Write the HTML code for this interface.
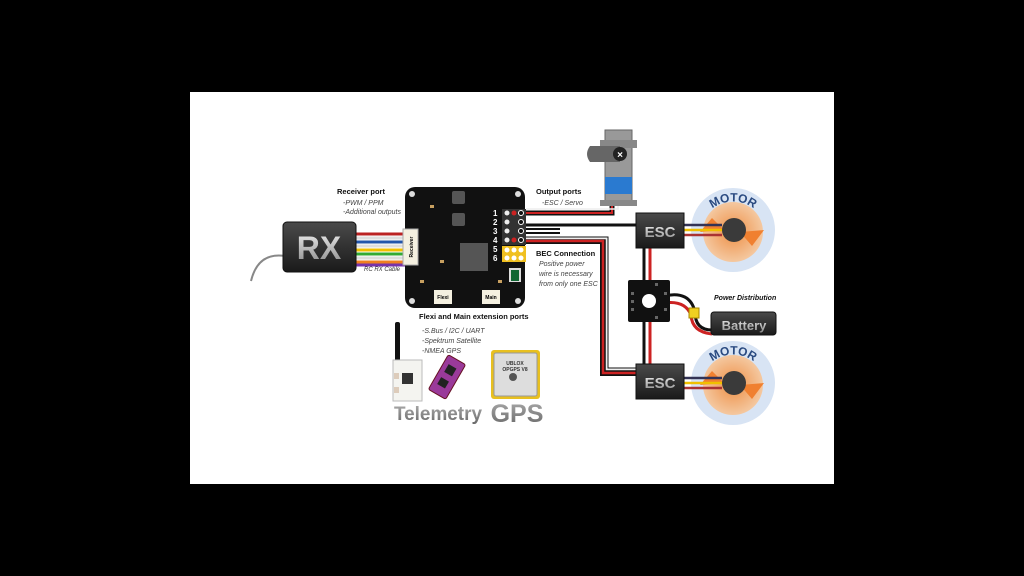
<!DOCTYPE html>
<html><head><style>
html,body{margin:0;padding:0;background:#000;}
svg{display:block;}
text{font-family:"Liberation Sans",sans-serif;}
</style></head><body>
<svg width="1024" height="576" viewBox="0 0 1024 576" xmlns="http://www.w3.org/2000/svg">
<defs>
<linearGradient id="dk" x1="0" y1="0" x2="0" y2="1"><stop offset="0" stop-color="#4a4a4a"/><stop offset="1" stop-color="#1a1a1a"/></linearGradient>
<linearGradient id="gt" x1="0" y1="0" x2="0" y2="1"><stop offset="0" stop-color="#eee"/><stop offset="1" stop-color="#888"/></linearGradient>
<linearGradient id="tg" x1="0" y1="0" x2="0" y2="1"><stop offset="0" stop-color="#aaa"/><stop offset="1" stop-color="#666"/></linearGradient>
<radialGradient id="og"><stop offset="0.3" stop-color="#f0a060"/><stop offset="1" stop-color="#f4c8a0"/></radialGradient>
<path id="arc1" d="M701 224 A34 34 0 0 1 765 224"/>
<path id="arc2" d="M701 377 A34 34 0 0 1 765 377"/>
</defs>
<rect width="1024" height="576" fill="#000"/>
<rect x="190" y="92" width="644" height="392" fill="#fff"/>

<path d="M285 256 Q258 252 251 281" stroke="#888" stroke-width="2" fill="none"/>
<g stroke-width="3">
<line x1="350" y1="234" x2="405" y2="234" stroke="#b22"/>
<line x1="350" y1="238" x2="405" y2="238" stroke="#ddd"/>
<line x1="350" y1="242" x2="405" y2="242" stroke="#2255aa"/>
<line x1="350" y1="246" x2="405" y2="246" stroke="#ddd"/>
<line x1="350" y1="250" x2="405" y2="250" stroke="#f0c000"/>
<line x1="350" y1="254" x2="405" y2="254" stroke="#3a3"/>
<line x1="350" y1="258" x2="405" y2="258" stroke="#ddd"/>
<line x1="350" y1="262" x2="405" y2="262" stroke="#f08020"/>
<line x1="350" y1="265" x2="405" y2="265" stroke="#7733aa"/>
</g>
<rect x="283" y="222" width="73" height="50" rx="4" fill="url(#dk)" stroke="#111"/>
<text x="319" y="259" font-size="32" font-weight="bold" fill="url(#gt)" text-anchor="middle">RX</text>
<text x="382" y="271" font-size="6" font-style="italic" fill="#333" text-anchor="middle">RC RX Cable</text>

<path d="M526 213 H612 V205" stroke="#111" stroke-width="5" fill="none"/>
<path d="M526 213 H612 V205" stroke="#c22" stroke-width="2" fill="none"/>
<path d="M526 209 H618 V205" stroke="#eee" stroke-width="1.5" fill="none"/>
<path d="M526 225 H640" stroke="#111" stroke-width="3" fill="none"/>
<path d="M526 229 H560" stroke="#111" stroke-width="2" fill="none"/>
<path d="M526 233 H560" stroke="#111" stroke-width="2" fill="none"/>
<path d="M526 241 H603 V373 H640" stroke="#111" stroke-width="6" fill="none"/>
<path d="M526 241 H603 V373 H640" stroke="#c22" stroke-width="2.5" fill="none"/>
<path d="M526 237 H608 V368 H640" stroke="#111" stroke-width="1" fill="none"/>
<path d="M526 238.5 H606.5 V369.5 H640" stroke="#eee" stroke-width="1.5" fill="none"/>
<line x1="644" y1="248" x2="644" y2="364" stroke="#111" stroke-width="3"/>
<line x1="650" y1="248" x2="650" y2="364" stroke="#c22" stroke-width="3"/>
<path d="M664 296 Q690 290 695 312 Q695 330 712 330" stroke="#111" stroke-width="3" fill="none"/>
<path d="M664 303 Q685 300 691 315 Q692 332 712 334" stroke="#c22" stroke-width="3" fill="none"/>
<rect x="689" y="308" width="10" height="10" fill="#f0d020" stroke="#a80"/>

<rect x="405" y="187" width="120" height="121" rx="10" fill="#111"/>
<circle cx="412" cy="194" r="3" fill="#ddd"/><circle cx="518" cy="194" r="3" fill="#ddd"/>
<circle cx="412" cy="301" r="3" fill="#ddd"/><circle cx="518" cy="301" r="3" fill="#ddd"/>
<rect x="452" y="191" width="13" height="13" rx="2" fill="#555"/>
<rect x="452" y="213" width="13" height="13" rx="2" fill="#555"/>
<rect x="460" y="243" width="28" height="28" fill="#555"/>
<rect x="403" y="229" width="15" height="36" fill="#f4f0e0" stroke="#aaa"/>
<text x="413" y="247" font-size="5" font-weight="bold" transform="rotate(-90 413 247)" text-anchor="middle">Receiver</text>
<rect x="434" y="290" width="18" height="14" fill="#f4f0e0"/>
<text x="443" y="299" font-size="5" font-weight="bold" text-anchor="middle">Flexi</text>
<rect x="482" y="290" width="18" height="14" fill="#f4f0e0"/>
<text x="491" y="299" font-size="5" font-weight="bold" text-anchor="middle">Main</text>
<rect x="509" y="268" width="12" height="14" fill="#ddd"/><rect x="511" y="270" width="8" height="11" fill="#163"/>
<g fill="#c8a060"><rect x="430" y="205" width="4" height="3"/><rect x="440" y="260" width="4" height="3"/><rect x="498" y="280" width="4" height="3"/><rect x="420" y="280" width="4" height="3"/></g>
<g font-size="8" font-weight="bold" fill="#fff"><text x="493" y="216">1</text><text x="493" y="225">2</text><text x="493" y="234">3</text><text x="493" y="243">4</text><text x="493" y="252">5</text><text x="493" y="261">6</text></g>
<g>
<rect x="502" y="209" width="24" height="36" fill="#333"/>
<circle cx="507" cy="213" r="2.5" fill="#eee"/><circle cx="514" cy="213" r="2.5" fill="#c22"/><circle cx="521" cy="213" r="2.5" fill="#111" stroke="#fff"/>
<circle cx="507" cy="222" r="2.5" fill="#eee"/><circle cx="521" cy="222" r="2.5" fill="#111" stroke="#fff"/>
<circle cx="507" cy="231" r="2.5" fill="#eee"/><circle cx="521" cy="231" r="2.5" fill="#111" stroke="#fff"/>
<circle cx="507" cy="240" r="2.5" fill="#eee"/><circle cx="514" cy="240" r="2.5" fill="#c22"/><circle cx="521" cy="240" r="2.5" fill="#111" stroke="#fff"/>
<rect x="502" y="246" width="24" height="16" fill="#f0c020"/>
<circle cx="507" cy="250" r="2.5" fill="#fff"/><circle cx="514" cy="250" r="2.5" fill="#fff"/><circle cx="521" cy="250" r="2.5" fill="#fff"/>
<circle cx="507" cy="258" r="2.5" fill="#fff"/><circle cx="514" cy="258" r="2.5" fill="#fff"/><circle cx="521" cy="258" r="2.5" fill="#fff"/>
</g>

<g fill="#111">
<text x="337" y="194" font-size="7.5" font-weight="bold">Receiver port</text>
<text x="343" y="205" font-size="7" font-style="italic" fill="#444">-PWM / PPM</text>
<text x="343" y="214" font-size="7" font-style="italic" fill="#444">-Additional outputs</text>
<text x="536" y="194" font-size="7.5" font-weight="bold">Output ports</text>
<text x="542" y="205" font-size="7" font-style="italic" fill="#444">-ESC / Servo</text>
<text x="536" y="256" font-size="7.5" font-weight="bold">BEC Connection</text>
<text x="539" y="266" font-size="7" font-style="italic" fill="#444">Positive power</text>
<text x="539" y="276" font-size="7" font-style="italic" fill="#444">wire is necessary</text>
<text x="539" y="286" font-size="7" font-style="italic" fill="#444">from only one ESC</text>
<text x="419" y="319" font-size="7.5" font-weight="bold">Flexi and Main extension ports</text>
<text x="422" y="333" font-size="7" font-style="italic" fill="#444">-S.Bus / I2C / UART</text>
<text x="422" y="343" font-size="7" font-style="italic" fill="#444">-Spektrum Satellite</text>
<text x="422" y="353" font-size="7" font-style="italic" fill="#444">-NMEA GPS</text>
<text x="714" y="300" font-size="7" font-weight="bold" font-style="italic">Power Distribution</text>
</g>

<rect x="605" y="130" width="27" height="75" fill="#999" stroke="#666"/>
<rect x="600" y="140" width="37" height="8" fill="#888"/>
<rect x="600" y="200" width="37" height="6" fill="#888"/>
<rect x="605" y="177" width="27" height="17" fill="#2a7ad0"/>
<path d="M590 146 H620 V162 H590 Q584 154 590 146 Z" fill="#666"/>
<circle cx="620" cy="154" r="7" fill="#222"/>
<text x="620" y="158" font-size="10" font-weight="bold" fill="#fff" text-anchor="middle">×</text>

<g>
<circle cx="733" cy="230" r="42" fill="#d8e4f4"/>
<circle cx="733" cy="232" r="30" fill="url(#og)"/>
<path d="M700 232 L712 218 L724 230 Z M764 230 L752 246 L740 232 Z" fill="#f08030"/>
<g stroke-width="2.5"><line x1="684" y1="225" x2="722" y2="225" stroke="#335"/><line x1="684" y1="230" x2="722" y2="230" stroke="#f0c000"/><line x1="684" y1="235" x2="722" y2="235" stroke="#a33"/></g>
<circle cx="734" cy="230" r="12" fill="#3a3a3a"/>
<text font-size="12" font-weight="bold" fill="#2a4a80" text-anchor="middle"><textPath href="#arc1" startOffset="50%">MOTOR</textPath></text>
</g>
<g>
<circle cx="733" cy="383" r="42" fill="#d8e4f4"/>
<circle cx="733" cy="385" r="30" fill="url(#og)"/>
<path d="M700 385 L712 371 L724 383 Z M764 383 L752 399 L740 385 Z" fill="#f08030"/>
<g stroke-width="2.5"><line x1="684" y1="378" x2="722" y2="378" stroke="#335"/><line x1="684" y1="383" x2="722" y2="383" stroke="#f0c000"/><line x1="684" y1="388" x2="722" y2="388" stroke="#a33"/></g>
<circle cx="734" cy="383" r="12" fill="#3a3a3a"/>
<text font-size="12" font-weight="bold" fill="#2a4a80" text-anchor="middle"><textPath href="#arc2" startOffset="50%">MOTOR</textPath></text>
</g>

<rect x="636" y="213" width="48" height="35" fill="url(#dk)" stroke="#111"/>
<text x="660" y="237" font-size="15" font-weight="bold" fill="url(#gt)" text-anchor="middle">ESC</text>
<rect x="636" y="364" width="48" height="35" fill="url(#dk)" stroke="#111"/>
<text x="660" y="388" font-size="15" font-weight="bold" fill="url(#gt)" text-anchor="middle">ESC</text>

<rect x="628" y="280" width="42" height="42" rx="2" fill="#111"/>
<circle cx="649" cy="301" r="7" fill="#fff"/>
<g fill="#666"><rect x="631" y="292" width="3" height="3"/><rect x="631" y="300" width="3" height="3"/><rect x="631" y="308" width="3" height="3"/><rect x="664" y="292" width="3" height="3"/><rect x="664" y="308" width="3" height="3"/><rect x="655" y="283" width="3" height="3"/><rect x="655" y="316" width="3" height="3"/></g>

<rect x="711" y="312" width="65" height="23" rx="3" fill="url(#dk)" stroke="#111"/>
<text x="744" y="330" font-size="13" font-weight="bold" fill="url(#gt)" text-anchor="middle">Battery</text>

<rect x="395" y="322" width="5" height="40" rx="2" fill="#111"/>
<rect x="393" y="360" width="29" height="41" fill="#f4f4f0" stroke="#bbb"/>
<rect x="402" y="373" width="11" height="11" fill="#333"/>
<rect x="394" y="373" width="5" height="6" fill="#dcb"/><rect x="394" y="387" width="5" height="6" fill="#dcb"/>
<g transform="rotate(30 447 377)"><rect x="437" y="357" width="20" height="40" rx="2" fill="#9a3a9a" stroke="#612"/><rect x="442" y="365" width="9" height="9" fill="#222"/><rect x="442" y="380" width="9" height="8" fill="#222"/></g>
<rect x="491" y="350" width="49" height="49" rx="3" fill="#e8c020"/>
<rect x="494" y="353" width="43" height="43" rx="2" fill="#ddd" stroke="#999"/>
<text x="515" y="365" font-size="5" font-weight="bold" fill="#333" text-anchor="middle">UBLOX</text>
<text x="515" y="371" font-size="5" font-weight="bold" fill="#333" text-anchor="middle">OPGPS V8</text>
<circle cx="513" cy="377" r="4" fill="#555"/>
<text x="438" y="420" font-size="19" font-weight="bold" fill="url(#tg)" text-anchor="middle" textLength="88" lengthAdjust="spacingAndGlyphs">Telemetry</text>
<text x="517" y="422" font-size="25" font-weight="bold" fill="url(#tg)" text-anchor="middle">GPS</text>
</svg>
</body></html>
